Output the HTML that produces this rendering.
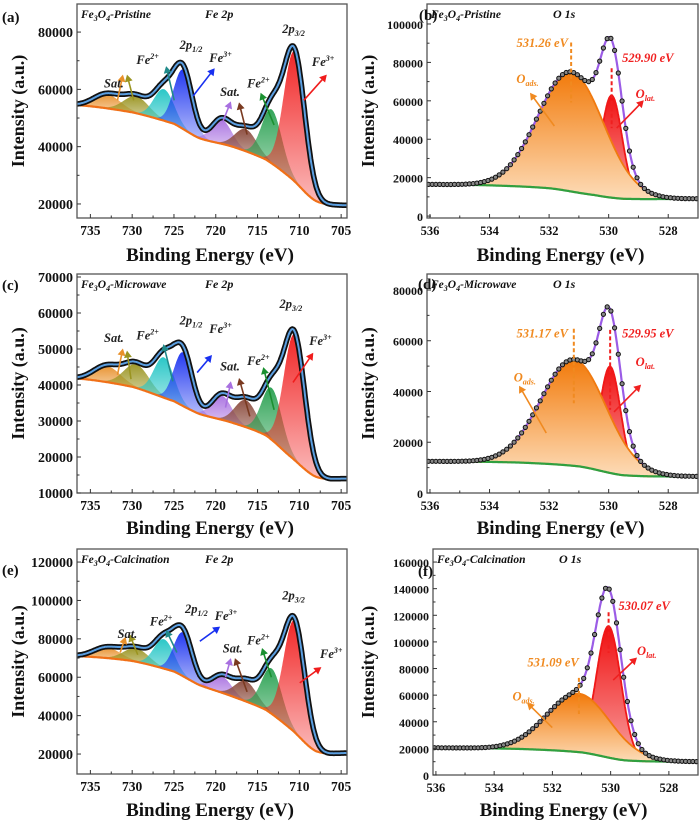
<!DOCTYPE html>
<html><head><meta charset="utf-8"><style>
body{margin:0;background:#fff}
svg{display:block}
text{font-family:"Liberation Serif",serif;font-weight:bold}
</style></head><body>
<svg id="fig" width="700" height="824" viewBox="0 0 700 824" xmlns="http://www.w3.org/2000/svg"></svg>
<script>
// ---------- data ----------
const feNames = ["sat-1","sat-2","fe2-2p12","fe3-2p12","sat-3","sat-4","fe2-2p32","fe3-2p32"];
const feColors = ["#e8902a","#9a9420","#20c4c4","#1830f0","#a870e0","#8a4a3c","#28a050","#f01c1c"];
const feCenters = [733,729.5,726.2,723.9,719.3,716.4,713.3,710.6];
const feWidths = [1.6,1.5,1.2,1.1,1.2,1.3,1.2,1.25];
const aHeights = [4900,5900,11000,20700,8450,7700,18800,45100];
const cHeights = [4450,6560,11200,14900,6750,7490,14400,34700];
const eHeights = [5500,7000,15300,22800,8650,10600,23600,57800];
const aBgE = [736.6,730,725,722,718,714,711,708,704.3];
const aBgV = [54500,52000,48000,43000,40000,35500,29000,21000,19500];
const cBgV = [41800,39500,35500,32000,29500,26000,20000,14500,14000];
const eBgV = [71000,68500,63000,56000,50000,43000,33000,21500,20500];
const feXTicks = [735,730,725,720,715,710,705];
const aYTicks = [20000,40000,60000,80000];
const cYTicks = [10000,20000,30000,40000,50000,60000,70000];
const eYTicks = [20000,40000,60000,80000,100000,120000];

const oCentersB = [531.26,529.90];
const oHeightsB = [62200,53200];
const oCentersD = [531.17,529.95];
const oHeightsD = [41850,41950];
const oCentersF = [531.09,530.07];
const oHeightsF = [43900,98700];
const oWidthsB = [1.1,0.35];
const oWidthsD = [1.1,0.35];
const oWidthsF = [1.1,0.42];
const bBgE = [536.1,534,532,530.5,529.5,527];
const bBgV = [16500,16000,14500,11000,9000,9000];
const dBgE = [536.1,533,531,529.5,527];
const dBgV = [12500,12000,10500,7000,6500];
const fBgE = [536.1,533,531,529.5,527];
const fBgV = [20500,19500,17000,11000,10000];
const oXTicks = [536,534,532,530,528];
const bYTicks = [0,20000,40000,60000,80000,100000];
const dYTicks = [0,20000,40000,60000,80000];
const fYTicks = [0,20000,40000,60000,80000,100000,120000,140000,160000];
const bPeakLabels = ["531.26 eV","529.90 eV"];
const dPeakLabels = ["531.17 eV","529.95 eV"];
const fPeakLabels = ["531.09 eV","530.07 eV"];

const NS="http://www.w3.org/2000/svg";
const svg=document.getElementById('fig');
const defs=document.createElementNS(NS,'defs');svg.appendChild(defs);
function el(tag,attrs,parent){const e=document.createElementNS(NS,tag);for(const k in attrs)e.setAttribute(k,attrs[k]);(parent||svg).appendChild(e);return e;}
function interp(E,V,e){
  const n=E.length;
  if(e>=E[0])return V[0];if(e<=E[n-1])return V[n-1];
  let i=1;while(e<E[i])i++;
  const t=(E[i-1]-e)/(E[i-1]-E[i]);
  const p0=V[Math.max(i-2,0)],p1=V[i-1],p2=V[i],p3=V[Math.min(i+1,n-1)];
  const t2=t*t,t3=t2*t;
  return 0.5*((2*p1)+(-p0+p2)*t+(2*p0-5*p1+4*p2-p3)*t2+(-p0+3*p1-3*p2+p3)*t3);
}
function gauss(e,c,h,s){return h*Math.exp(-(e-c)*(e-c)/(2*s*s));}
let gid=0;
function grad(c1,o1,c2,o2){const id='g'+(gid++);const g=el('linearGradient',{id:id,x1:0,y1:0,x2:0,y2:1},defs);
el('stop',{offset:0,'stop-color':c1,'stop-opacity':o1},g);el('stop',{offset:1,'stop-color':c2,'stop-opacity':o2},g);return 'url(#'+id+')';}

function panel(cfg){
  const g=el('g',{});
  
  
  const L=cfg.box[0],T=cfg.box[1],R=cfg.box[2],B=cfg.box[3],W=R-L,H=B-T;
  const xs=e=>L+(cfg.xl-e)/(cfg.xl-cfg.xr)*W;
  const ys=v=>B-(v-cfg.y0)/(cfg.y1-cfg.y0)*H;
  const bg=e=>interp(cfg.bgE,cfg.bgV,e);
  const clipId='clip'+cfg.name;
  const cp=el('clipPath',{id:clipId},defs);el('rect',{x:L,y:T,width:W,height:H},cp);
  const plot=el('g',{'clip-path':'url(#'+clipId+')'},g);
  const step=(cfg.xl-cfg.xr)/400;
  const envelope=e=>{let s=bg(e);for(let i=0;i<cfg.centers.length;i++)s+=gauss(e,cfg.centers[i],cfg.heights[i],cfg.widths[i]);return s;};
  const order=cfg.fillOrder||cfg.centers.map((_,i)=>i);
  order.forEach(i=>{
    const c=cfg.centers[i],s=cfg.widths[i];
    let top=[],bot=[];
    const span=cfg.fe?3.2:4;
    for(let e=c+span*s;e>=c-span*s;e-=step/2){top.push(xs(e).toFixed(1)+','+ys(bg(e)+gauss(e,c,cfg.heights[i],s)).toFixed(1));bot.push(xs(e).toFixed(1)+','+ys(bg(e)).toFixed(1));}
    const fill=cfg.fe?grad(cfg.colors[i],0.95,cfg.colors[i],0.3):(i===0?grad('#f27a0a',1,'#fddcb8',1):grad('#f01010',1,'#f8a0a0',1));
    const p=el('polygon',{points:top.concat(bot.reverse()).join(' '),fill:fill,stroke:cfg.outline?cfg.colors[i]:'none','stroke-width':cfg.outline?1.8:0},plot);
    
    
  });
  let bp=[];for(let e=cfg.xl;e>=cfg.xr;e-=step)bp.push(xs(e).toFixed(1)+','+ys(bg(e)).toFixed(1));
  const bl=el('polyline',{points:bp.join(' '),fill:'none',stroke:cfg.bgColor,'stroke-width':2.2},plot);
  
  
  let ep=[];for(let e=cfg.xl;e>=cfg.xr;e-=step)ep.push(xs(e).toFixed(1)+','+ys(envelope(e)).toFixed(1));
  if(cfg.fe){
    const raw=el('polyline',{points:ep.join(' '),fill:'none',stroke:'#111','stroke-width':5.5},plot);
    
    
    const fit=el('polyline',{points:ep.join(' '),fill:'none',stroke:'#5a9ee0','stroke-width':2},plot);
    
    
  } else {
    const fit=el('polyline',{points:ep.join(' '),fill:'none',stroke:'#9b5ce6','stroke-width':2.2},plot);
    
    
    for(let e=cfg.xl-0.05;e>=cfg.xr;e-=0.125){
      const d=el('circle',{cx:xs(e).toFixed(1),cy:ys(envelope(e)).toFixed(1),r:2.1,fill:'#888',stroke:'#111','stroke-width':1},plot);
      
      
    }
  }
  const fr=el('rect',{x:L,y:T,width:W,height:H,fill:'none',stroke:'#555','stroke-width':1.3},g);
  
  
  const xf=cfg.fe?13.5:12.5, yf=cfg.fe?14:12;
  cfg.xTicks.forEach(t=>{const x=xs(t);el('line',{x1:x,y1:B,x2:x,y2:B-4,stroke:'#333','stroke-width':1},g);
    const tx=el('text',{x:x,y:B+17,'text-anchor':'middle','font-size':xf,fill:'#111'},g);tx.textContent=t;
    });
  for(let i=0;i<cfg.xTicks.length-1;i++){const x=xs((cfg.xTicks[i]+cfg.xTicks[i+1])/2);el('line',{x1:x,y1:B,x2:x,y2:B-2.5,stroke:'#333','stroke-width':1},g);}
  cfg.yTicks.forEach(t=>{const y=ys(t);el('line',{x1:L,y1:y,x2:L+4,y2:y,stroke:'#333','stroke-width':1},g);
    const tx=el('text',{x:L-4,y:y+5,'text-anchor':'end','font-size':yf,fill:'#111'},g);tx.textContent=t;
    });
  for(let i=0;i<cfg.yTicks.length-1;i++){const y=ys((cfg.yTicks[i]+cfg.yTicks[i+1])/2);el('line',{x1:L,y1:y,x2:L+2.5,y2:y,stroke:'#333','stroke-width':1},g);}
  const yt=el('text',{x:0,y:0,'text-anchor':'middle','font-size':18,fill:'#111',transform:'translate('+cfg.ytx+','+((T+B)/2)+') rotate(-90)'},g);
  yt.textContent='Intensity (a.u.)';
  const xt=el('text',{x:(L+R)/2-2,y:cfg.xty,'text-anchor':'middle','font-size':19,fill:'#111'},g);
  xt.textContent='Binding Energy (eV)';
  const pl=el('text',{x:cfg.letter[0],y:cfg.letter[1],'font-size':15,fill:'#111'},g);pl.textContent=cfg.letter[2];
  
  const sl=el('text',{x:L+4,y:T+14,'font-size':11.5,'font-style':'italic',fill:'#111'},g);
  sl.innerHTML='Fe<tspan font-size="8" dy="3">3</tspan><tspan dy="-3">O</tspan><tspan font-size="8" dy="3">4</tspan><tspan dy="-3">-'+cfg.sample+'</tspan>';
  
  const rl=el('text',{x:cfg.regionX,y:T+14,'font-size':12,'font-style':'italic',fill:'#111'},g);rl.textContent=cfg.region;
  
  const fx=f=>L+f*W, fy=f=>T+f*H;
  (cfg.arrows||[]).forEach(a=>{
    const x1=fx(a[0]),y1=fy(a[1]),x2=fx(a[2]),y2=fy(a[3]);const ang=Math.atan2(y2-y1,x2-x1);
    const ln=el('line',{x1:x1,y1:y1,x2:x2-6*Math.cos(ang),y2:y2-6*Math.sin(ang),stroke:a[4],'stroke-width':1.6},g);
    
    const hx=x2,hy=y2,s=7,w=4;
    const pts=[[hx,hy],[hx-s*Math.cos(ang)+w*Math.sin(ang),hy-s*Math.sin(ang)-w*Math.cos(ang)],[hx-s*Math.cos(ang)-w*Math.sin(ang),hy-s*Math.sin(ang)+w*Math.cos(ang)]];
    el('polygon',{points:pts.map(p=>p[0].toFixed(1)+','+p[1].toFixed(1)).join(' '),fill:a[4]},g);
  });
  (cfg.labels||[]).forEach(l=>{
    const t=el('text',{x:fx(l[0]),y:fy(l[1]),'font-size':12.5,'font-style':l[4]?'normal':'italic',fill:l[3]||'#222','text-anchor':l[5]||'start'},g);
    t.innerHTML=l[2];
  });
  (cfg.dashes||[]).forEach((d,i)=>{
    const x=xs(cfg.centers[d[0]]);
    const ln=el('line',{x1:x,y1:fy(d[1]),x2:x,y2:fy(d[2]),stroke:d[3],'stroke-width':2,'stroke-dasharray':'4 2.5'},g);
    
  });
}
const FE2='Fe<tspan font-size="8" dy="-5">2+</tspan>',FE3='Fe<tspan font-size="8" dy="-5">3+</tspan>';
const P12='2p<tspan font-size="8" dy="3">1/2</tspan>',P32='2p<tspan font-size="8" dy="3">3/2</tspan>';
const OADS='O<tspan font-size="8" dy="3">ads.</tspan>',OLAT='O<tspan font-size="8" dy="3">lat.</tspan>';
function feCfg(name,box,heights,bgV,y0,y1,yTicks,ytx,xty,letter,sample,arrows,labels){
  return {name:name,fe:true,box:box,xl:736.6,xr:704.3,y0:y0,y1:y1,centers:feCenters,heights:heights,widths:feWidths,colors:feColors,compNames:feNames,
    bgE:aBgE,bgV:bgV,bgColor:'#f07018',xTicks:feXTicks,yTicks:yTicks,ytx:ytx,xty:xty,letter:letter,sample:sample,region:'Fe 2p',regionX:box[0]+128,arrows:arrows,labels:labels};
}
panel(feCfg('panel-a-fe2p-pristine',[77,4,347,218],aHeights,aBgV,15100,89800,aYTicks,24,261,[2,22,'(a)'],'Pristine',
 [[.15,.45,.17,.33,'#e8902a'],[.21,.45,.185,.33,'#9a9420'],[.36,.45,.33,.29,'#208a8a'],[.43,.43,.51,.30,'#1830f0'],[.54,.55,.57,.455,'#a870e0'],[.63,.61,.60,.46,'#7a3a20'],[.73,.565,.68,.415,'#1a9030'],[.84,.45,.925,.33,'#f01c1c']],
 [[.1,.39,'Sat.'],[.22,.28,FE2],[.38,.21,P12],[.49,.27,FE3],[.53,.43,'Sat.'],[.63,.39,FE2],[.76,.135,P32],[.87,.29,FE3]]));
panel(feCfg('panel-c-fe2p-microwave',[77,274,347,493],cHeights,cBgV,10000,70830,cYTicks,24,534,[2,290,'(c)'],'Microwave',
 [[.15,.46,.17,.34,'#e8902a'],[.20,.48,.185,.35,'#9a9420'],[.355,.49,.32,.32,'#208a8a'],[.445,.45,.50,.37,'#1830f0'],[.55,.61,.57,.49,'#a870e0'],[.64,.65,.60,.475,'#7a3a20'],[.73,.62,.69,.425,'#1a9030'],[.80,.495,.875,.36,'#f01c1c']],
 [[.1,.31,'Sat.'],[.22,.30,FE2],[.38,.23,P12],[.49,.27,FE3],[.53,.44,'Sat.'],[.63,.415,FE2],[.75,.155,P32],[.86,.325,FE3]]));
panel(feCfg('panel-e-fe2p-calcination',[77,549,347,774],eHeights,eBgV,9600,126800,eYTicks,24,816,[2,575,'(e)'],'Calcination',
 [[.16,.46,.18,.39,'#e8902a'],[.225,.47,.195,.38,'#9a9420'],[.37,.46,.33,.36,'#208a8a'],[.455,.41,.53,.345,'#1830f0'],[.55,.57,.57,.485,'#a870e0'],[.63,.635,.585,.485,'#7a3a20'],[.72,.57,.685,.44,'#1a9030'],[.825,.595,.905,.525,'#f01c1c']],
 [[.15,.395,'Sat.'],[.27,.34,FE2],[.4,.285,P12],[.51,.315,FE3],[.54,.46,'Sat.'],[.63,.425,FE2],[.76,.225,P32],[.9,.485,FE3]]));

function oCfg(name,box,centers,heights,widths,bgE,bgV,y0,y1,yTicks,xty,letter,sample,peakLabels,ann){
  return {name:name,fe:false,box:box,xl:536.1,xr:527,y0:y0,y1:y1,centers:centers,heights:heights,widths:widths,colors:['#f07a10','#f01818'],compNames:['o-ads','o-lat'],
    fillOrder:[1,0],outline:true,bgE:bgE,bgV:bgV,bgColor:'#30a040',xTicks:oXTicks,yTicks:yTicks,ytx:374,xty:xty,letter:letter,sample:sample,region:'O 1s',regionX:box[0]+126,
    arrows:ann.arrows,dashes:ann.dashes,
    labels:[[ann.l0[0],ann.l0[1],peakLabels[0],'#f08a20',false,'end'],[ann.l1[0],ann.l1[1],peakLabels[1],'#f02020',false,'start'],[ann.la[0],ann.la[1],OADS,'#f08a20'],[ann.ll[0],ann.ll[1],OLAT,'#f02020']]};
}
panel(oCfg('panel-b-o1s-pristine',[427,4,698,218],oCentersB,oHeightsB,oWidthsB,bBgE,bBgV,-1000,110400,bYTicks,261,[419,20,'(b)'],'Pristine',bPeakLabels,
 {arrows:[[.47,.57,.38,.415,'#f08a20'],[.70,.58,.80,.45,'#f02020']],dashes:[[0,.18,.46,'#f08a20'],[1,.30,.58,'#f02020']],l0:[.52,.2],l1:[.72,.27],la:[.33,.37],ll:[.77,.44]}));
panel(oCfg('panel-d-o1s-microwave',[427,274,698,493],oCentersD,oHeightsD,oWidthsD,dBgE,dBgV,0,86300,dYTicks,534,[418,289,'(d)'],'Microwave',dPeakLabels,
 {arrows:[[.44,.726,.34,.51,'#f08a20'],[.69,.63,.79,.505,'#f02020']],dashes:[[0,.25,.59,'#f08a20'],[1,.255,.62,'#f02020']],l0:[.52,.29],l1:[.72,.29],la:[.32,.49],ll:[.77,.42]}));
panel(oCfg('panel-f-o1s-calcination',[433,549,698,775],oCentersF,oHeightsF,oWidthsF,fBgE,fBgV,0,169800,fYTicks,816,[418,576,'(f)'],'Calcination',fPeakLabels,
 {arrows:[[.45,.79,.355,.68,'#f08a20'],[.68,.58,.77,.48,'#f02020']],dashes:[[0,.57,.73,'#f08a20'],[1,.28,.46,'#f02020']],l0:[.55,.52],l1:[.70,.27],la:[.30,.67],ll:[.77,.47]}));
</script>
</body></html>
